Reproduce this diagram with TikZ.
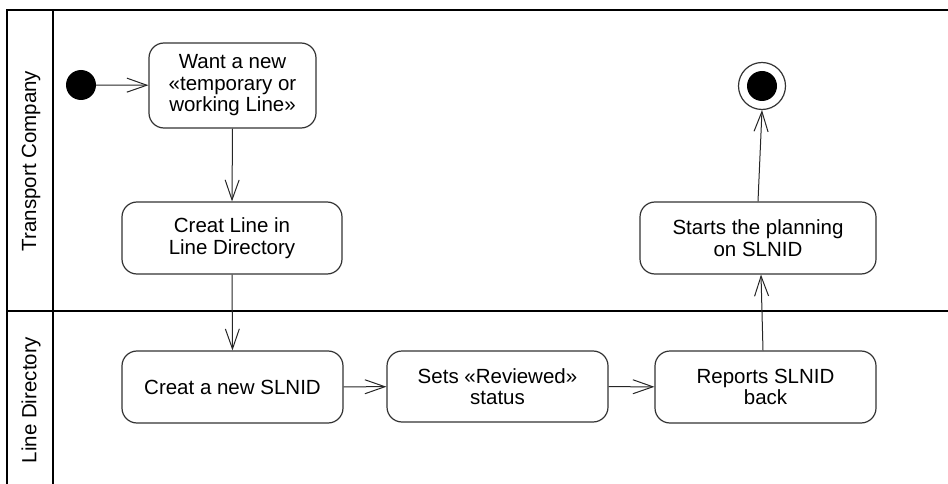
\documentclass[tikz,border=0pt]{standalone}
\usepackage{fontspec}
\setmainfont{Liberation Sans}
\usetikzlibrary{arrows.meta}
\begin{document}
\begin{tikzpicture}[x=1pt,y=-1pt,
  font=\fontsize{20.5pt}{21.5pt}\selectfont,
  lane/.style={line width=2.6pt,draw=black},
  act/.style={draw=black!80,line width=1.2pt,rounded corners=15pt,align=center,inner sep=0pt},
  flow/.style={draw=black!85,line width=1pt,-{Straight Barb[length=20pt,width=14pt,line width=1pt]}},
  lanelabel/.style={rotate=90,inner sep=0pt}
]
\useasboundingbox (0,0) rectangle (948,484);
% swimlane frame
\draw[lane] (948,10) -- (7,10) -- (7,484);
\draw[lane] (53,10) -- (53,484);
\draw[lane] (7,311) -- (948,311);
\node[lanelabel] (l1) at (31,161) {Transport Company};
\node[lanelabel] (l2) at (31,400) {Line Directory};
% nodes
\node[circle,fill=black,minimum size=30pt,inner sep=0pt] (start) at (81,85) {};
\node[act,minimum width=167pt,minimum height=85pt] (a1) at (232.5,85.5) {Want a new\\«temporary or\\working Line»};
\node[act,minimum width=220pt,minimum height=72pt] (a2) at (232,238) {Creat Line in\\Line Directory};
\node[act,minimum width=221pt,minimum height=72pt] (a3) at (232.5,387) {Creat a new SLNID};
\node[act,minimum width=221pt,minimum height=71pt] (a4) at (497.5,386.5) {Sets «Reviewed»\\status};
\node[act,minimum width=221pt,minimum height=72pt] (a5) at (765.5,387) {Reports SLNID\\back};
\node[act,minimum width=236pt,minimum height=72pt] (a6) at (758,238) {Starts the planning\\on SLNID};
\node[circle,draw=black!80,line width=1.2pt,minimum size=47pt,inner sep=0pt] (end) at (762,86) {};
\fill[black] (end.center) circle (15pt);
% flows
\draw[flow] (start) -- (a1);
\draw[flow] (a1.south) -- (a2.north);
\draw[flow] (a2.south) -- (a3.north);
\draw[flow] (a3) -- (a4);
\draw[flow] (a4) -- (a5);
\draw[flow] ([xshift=-2.5pt]a5.north) -- ([xshift=3pt]a6.south);
\draw[flow] (a6.north) -- (end.south);
\end{tikzpicture}
\end{document}
